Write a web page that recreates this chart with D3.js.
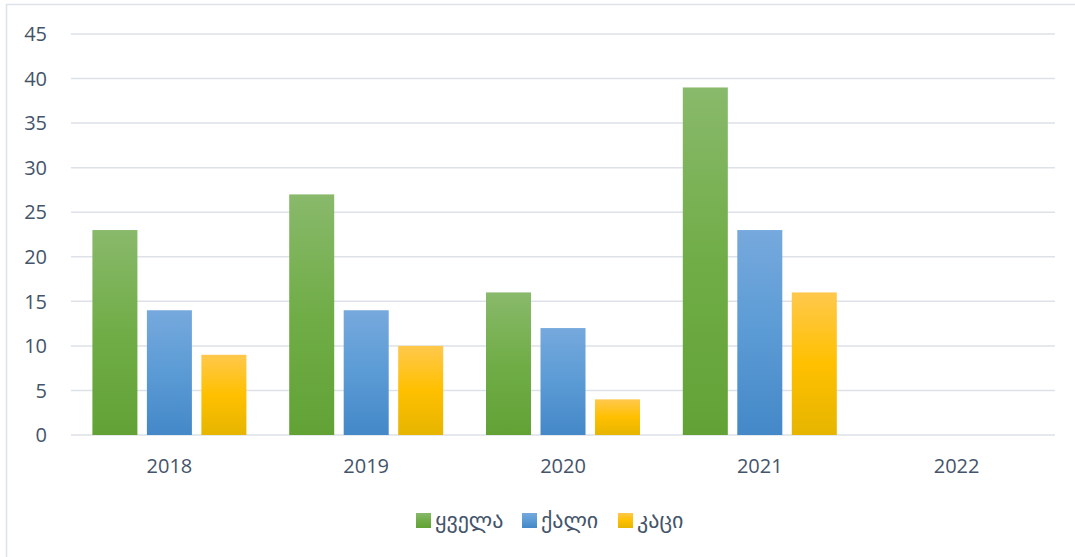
<!DOCTYPE html>
<html>
<head>
<meta charset="utf-8">
<script src="https://cdn.jsdelivr.net/npm/d3@7"></script>
<style>
  body { margin: 0; background: #fff; }
  text { font-family: "Open Sans", "DejaVu Sans", sans-serif; fill: #44546a; }
</style>
</head>
<body>
<div id="chart"></div>
<script>
const years = ['2018', '2019', '2020', '2021', '2022'];
const seriesNames = ['ყველა', 'ქალი', 'კაცი'];
const allValues = [23, 27, 16, 39, null];
const femaleValues = [14, 14, 12, 23, null];
const maleValues = [9, 10, 4, 16, null];
const yTicks = [0, 5, 10, 15, 20, 25, 30, 35, 40, 45];

const W = 1075, H = 557;
const margin = {top: 34, right: 20, bottom: 122, left: 71};

const svg = d3.select('#chart').append('svg')
  .attr('width', W).attr('height', H);

// outer frame (clipped at right and bottom like the reference)
svg.append('rect')
  .attr('x', 6.5).attr('y', 4.5)
  .attr('width', W).attr('height', H)
  .attr('fill', 'none').attr('stroke', '#dde2e8').attr('stroke-width', 1.5);

const colors = [
  ['#89b96b', '#70ad47', '#62a235'],
  ['#76a9dd', '#5b9bd5', '#4488c8'],
  ['#ffc84c', '#ffc000', '#e6b500']
];
const defs = svg.append('defs');
colors.forEach((c, i) => {
  const g = defs.append('linearGradient').attr('id', 'grad' + i)
    .attr('x1', 0).attr('y1', 0).attr('x2', 0).attr('y2', 1);
  g.append('stop').attr('offset', '0%').attr('stop-color', c[0]);
  g.append('stop').attr('offset', '50%').attr('stop-color', c[1]);
  g.append('stop').attr('offset', '100%').attr('stop-color', c[2]);
});

const x0 = d3.scaleBand().domain(years)
  .range([margin.left, 1055]).paddingInner(0.2175).paddingOuter(0.2175 / 2);
const x1 = d3.scaleBand().domain(d3.range(3))
  .range([0, x0.bandwidth()]).paddingInner(0.174);
const y = d3.scaleLinear().domain([0, 45]).range([435, margin.top]);

// gridlines
svg.append('g').selectAll('line').data(yTicks).join('line')
  .attr('x1', margin.left).attr('x2', 1055)
  .attr('y1', d => y(d)).attr('y2', d => y(d))
  .attr('stroke', '#dde2e8').attr('stroke-width', 1.5);

// y labels
svg.append('g').selectAll('text').data(yTicks).join('text')
  .attr('x', 47).attr('y', d => y(d)).attr('dy', '0.36em')
  .attr('text-anchor', 'end').attr('font-size', 20)
  .text(d => d);

// bars
const series = [allValues, femaleValues, maleValues];
series.forEach((vals, si) => {
  svg.append('g').selectAll('rect')
    .data(years.map((yr, i) => ({yr, v: vals[i]})).filter(d => d.v != null))
    .join('rect')
    .attr('x', d => x0(d.yr) + x1(si))
    .attr('width', x1.bandwidth())
    .attr('y', d => y(d.v))
    .attr('height', d => y(0) - y(d.v))
    .attr('fill', 'url(#grad' + si + ')');
});

// x labels
svg.append('g').selectAll('text').data(years).join('text')
  .attr('x', d => x0(d) + x0.bandwidth() / 2).attr('y', 473)
  .attr('text-anchor', 'middle').attr('font-size', 20)
  .text(d => d);

// legend
const legendX = [416, 522, 618];
const legend = svg.append('g');
seriesNames.forEach((name, i) => {
  legend.append('rect')
    .attr('x', legendX[i]).attr('y', 513).attr('width', 15).attr('height', 15)
    .attr('fill', 'url(#grad' + i + ')');
  legend.append('text')
    .attr('x', legendX[i] + 19).attr('y', 528)
    .attr('font-size', 22)
    .style('font-family', '"DejaVu Sans", sans-serif')
    .text(name);
});
</script>
</body>
</html>
